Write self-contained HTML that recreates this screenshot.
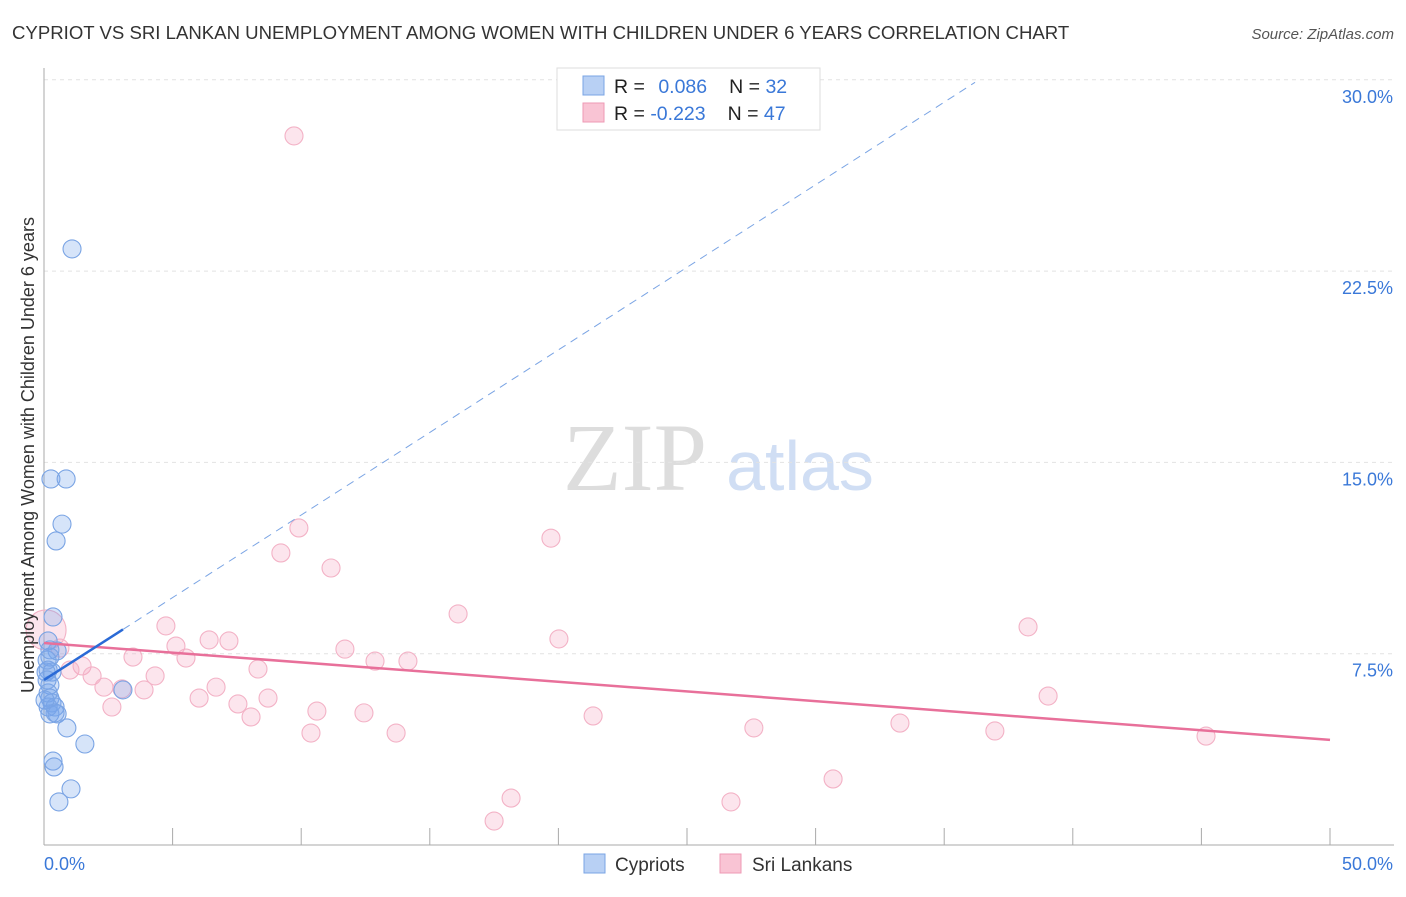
<!DOCTYPE html>
<html><head><meta charset="utf-8"><style>
body{margin:0;background:#fff;font-family:"Liberation Sans",sans-serif}
</style></head><body>
<svg width="1406" height="892" xmlns="http://www.w3.org/2000/svg" font-family="Liberation Sans, sans-serif">
<text x="12" y="39" font-size="18.6" fill="#333">CYPRIOT VS SRI LANKAN UNEMPLOYMENT AMONG WOMEN WITH CHILDREN UNDER 6 YEARS CORRELATION CHART</text>
<text x="1394" y="39" font-size="15" fill="#555" font-style="italic" text-anchor="end">Source: ZipAtlas.com</text>
<g><text x="635" y="490" font-size="96" fill="#ddd" font-family="Liberation Serif, serif" text-anchor="middle">ZIP</text><text x="800" y="490" font-size="70" fill="#d0def4" text-anchor="middle">atlas</text></g>
<g id="grid"></g>
<g id="axes"></g>
<g id="marks"></g>
<text transform="translate(34,455) rotate(-90)" font-size="18" fill="#333" text-anchor="middle">Unemployment Among Women with Children Under 6 years</text>
<g>
<rect x="557" y="68" width="263" height="62" fill="#fff" stroke="#ddd"/>
<rect x="583" y="76" width="21" height="19" fill="#b8d0f4" stroke="#7aa4e4"/>
<rect x="583" y="103" width="21" height="19" fill="#f9c4d4" stroke="#ee9ab4"/>
<text x="614" y="93" font-size="19.5" fill="#222">R = <tspan fill="#3a78d8" dx="8">0.086</tspan><tspan dx="22">N = </tspan><tspan fill="#3a78d8">32</tspan></text>
<text x="614" y="120" font-size="19.5" fill="#222">R = <tspan fill="#3a78d8">-0.223</tspan><tspan dx="22">N = </tspan><tspan fill="#3a78d8">47</tspan></text>
</g>
<g>
<rect x="584" y="854" width="21" height="19" fill="#b8d0f4" stroke="#7aa4e4"/>
<text x="615" y="871" font-size="19" fill="#333">Cypriots</text>
<rect x="720" y="854" width="21" height="19" fill="#f9c4d4" stroke="#ee9ab4"/>
<text x="752" y="871" font-size="19" fill="#333">Sri Lankans</text>
</g>
</svg>
<script>
const yTicks=[7.5,15,22.5,30];
const yTickLabels=["7.5%","15.0%","22.5%","30.0%"];
const xTicks=[0,5,10,15,20,25,30,35,40,45,50];
const cypX=[1.09,0.27,0.86,0.70,0.47,0.35,0.16,0.51,0.23,0.16,0.31,0.08,0.23,0.16,0.23,0.31,0.16,0.43,0.23,0.51,0.89,1.59,0.35,0.39,1.05,0.58,3.07,0.12,0.12,0.43,0.04,0.23];
const cypY=[23.37,14.35,14.35,12.58,11.92,8.94,8.0,7.61,7.37,6.86,6.78,6.78,6.27,5.96,5.76,5.57,5.41,5.41,5.14,5.14,4.59,3.96,3.29,3.06,2.20,1.69,6.08,7.25,6.47,5.18,5.68,7.65];
const sriX=[9.72,19.71,9.91,9.21,11.16,16.10,20.02,4.74,6.42,7.19,5.13,11.70,3.46,5.52,12.87,14.15,1.48,8.32,4.32,1.87,3.03,3.89,2.33,6.69,8.71,6.03,7.54,2.64,10.61,8.05,12.44,21.35,10.38,13.69,27.60,33.28,36.97,45.18,38.26,39.04,18.16,17.50,26.71,30.68,0.08,0.62,1.01];
const sriY=[27.80,12.03,12.43,11.45,10.86,9.06,8.08,8.59,8.04,8.00,7.80,7.68,7.37,7.33,7.21,7.21,7.02,6.90,6.63,6.63,6.12,6.08,6.19,6.19,5.76,5.76,5.53,5.41,5.25,5.02,5.18,5.06,4.39,4.39,4.59,4.78,4.47,4.27,8.55,5.84,1.84,0.94,1.69,2.59,8.43,7.72,6.86];
const sriR=[];sriR[44]=20;
const cypTrend=[[0,6.47],[3.07,8.45]];
const cypTrendExt=[[3.07,8.45],[36.2,29.9]];
const sriTrend=[[0,7.92],[50,4.12]];
const X=v=>44+v/50*1286, Y=v=>845-v/7.5*191.3;
const NS="http://www.w3.org/2000/svg";
function mk(p,t,a){const e=document.createElementNS(NS,t);for(const k in a)e.setAttribute(k,a[k]);document.getElementById(p).appendChild(e);return e;}
yTicks.forEach((t,i)=>{
 const l=mk('grid','line',{x1:44,x2:1394,y1:Y(t),y2:Y(t),stroke:'#e2e2e2','stroke-dasharray':'4,4'});
 
 
 const tx=mk('grid','text',{x:1393,y:Y(t)+23,'font-size':18,fill:'#3a78d8','text-anchor':'end'});
 tx.textContent=yTickLabels[i];
 
 
});
let a=mk('axes','line',{x1:44,x2:44,y1:68,y2:845,stroke:'#aaa'});

a=mk('axes','line',{x1:44,x2:1394,y1:845,y2:845,stroke:'#aaa'});

xTicks.forEach(t=>{const l=mk('axes','line',{x1:X(t),x2:X(t),y1:828,y2:845,stroke:'#aaa'});
 
 });
let t=mk('axes','text',{x:44,y:870,'font-size':18,fill:'#3a78d8'});t.textContent='0.0%';

t=mk('axes','text',{x:1393,y:870,'font-size':18,fill:'#3a78d8','text-anchor':'end'});t.textContent='50.0%';

sriX.forEach((x,i)=>{const c=mk('marks','circle',{cx:X(x),cy:Y(sriY[i]),r:sriR[i]||9,fill:'rgba(246,170,196,0.3)',stroke:'#f3b2c6','stroke-width':1.1});
 
 });
cypX.forEach((x,i)=>{const c=mk('marks','circle',{cx:X(x),cy:Y(cypY[i]),r:9,fill:'rgba(120,166,235,0.3)',stroke:'#7aa4e4','stroke-width':1.1});
 
 });
let l=mk('marks','line',{x1:X(sriTrend[0][0]),y1:Y(sriTrend[0][1]),x2:X(sriTrend[1][0]),y2:Y(sriTrend[1][1]),stroke:'#e8709a','stroke-width':2.5});

l=mk('marks','line',{x1:X(cypTrendExt[0][0]),y1:Y(cypTrendExt[0][1]),x2:X(cypTrendExt[1][0]),y2:Y(cypTrendExt[1][1]),stroke:'#7aa4e4','stroke-width':1,'stroke-dasharray':'8,6'});

l=mk('marks','line',{x1:X(cypTrend[0][0]),y1:Y(cypTrend[0][1]),x2:X(cypTrend[1][0]),y2:Y(cypTrend[1][1]),stroke:'#2a6ad6','stroke-width':2.5});

</script>
</body></html>
